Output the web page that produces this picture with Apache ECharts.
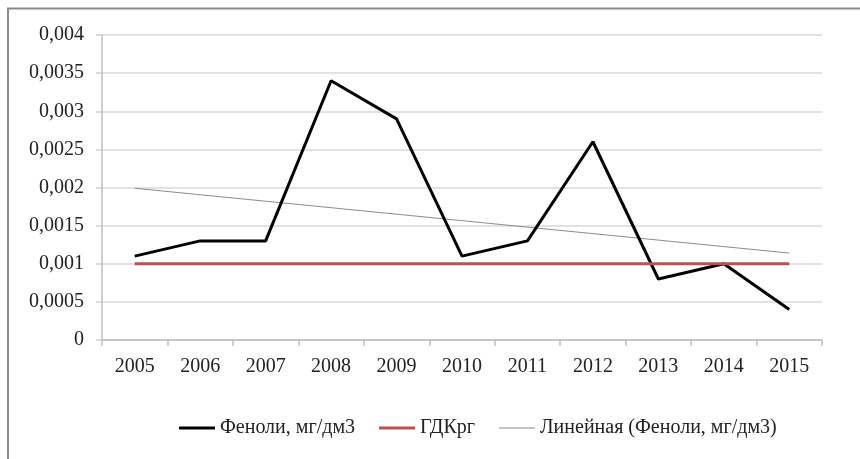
<!DOCTYPE html>
<html>
<head>
<meta charset="utf-8">
<script src="https://cdn.jsdelivr.net/npm/echarts@6/dist/echarts.min.js"></script>
<style>
html,body{margin:0;padding:0;background:#fff;}
#c{width:860px;height:459px;}
</style>
</head>
<body>
<div id="c"></div>
<script>
const years = ['2005','2006','2007','2008','2009','2010','2011','2012','2013','2014','2015'];
const phenols = [0.0011, 0.0013, 0.0013, 0.0034, 0.0029, 0.0011, 0.0013, 0.0026, 0.0008, 0.0010, 0.0004];
const gdk = [0.001, 0.001, 0.001, 0.001, 0.001, 0.001, 0.001, 0.001, 0.001, 0.001, 0.001];
const trendYears = ['2005', '2015'];
const trendValues = [0.00199, 0.00114];
const seriesNames = ['Феноли, мг/дм3', 'ГДКрг', 'Линейная (Феноли, мг/дм3)'];

const font = 'Liberation Serif, Times New Roman, serif';
const chart = echarts.init(document.getElementById('c'));
chart.setOption({
  animation: false,
  backgroundColor: '#fff',
  graphic: [
    {type: 'line', shape: {x1: 7, y1: 8.5, x2: 860, y2: 8.5}, style: {stroke: '#8a8a8a', lineWidth: 2}},
    {type: 'line', shape: {x1: 8, y1: 8, x2: 8, y2: 459}, style: {stroke: '#8a8a8a', lineWidth: 2}}
  ],
  grid: {left: 102, right: 38, top: 35, bottom: 119, containLabel: false},
  legend: {
    left: 174, top: 413,
    itemWidth: 36, itemHeight: 14, itemGap: 24,
    textStyle: {fontFamily: font, fontSize: 20, color: '#222'},
    data: [
      {name: seriesNames[0], icon: 'path://M0,0H36V3H0Z'},
      {name: seriesNames[1], icon: 'path://M0,0H36V3H0Z'},
      {name: seriesNames[2], icon: 'path://M0,0H36V1H0Z'}
    ]
  },
  xAxis: {
    type: 'category',
    data: years,
    boundaryGap: true,
    axisLine: {lineStyle: {color: '#bfbfbf', width: 1.5}},
    axisTick: {show: true, length: 6, lineStyle: {color: '#bfbfbf', width: 1.5}},
    axisLabel: {fontFamily: font, fontSize: 20, color: '#222', margin: 17}
  },
  yAxis: {
    type: 'value',
    min: 0, max: 0.004, interval: 0.0005,
    axisLine: {show: true, lineStyle: {color: '#bfbfbf', width: 1.5}},
    axisTick: {show: true, length: 6, lineStyle: {color: '#d0d0d0', width: 1.5}},
    splitLine: {lineStyle: {color: '#d9d9d9', width: 1.5}},
    axisLabel: {
      fontFamily: font, fontSize: 20, color: '#222', margin: 18,
      formatter: v => String(+v.toFixed(4)).replace('.', ',')
    }
  },
  series: [
    {
      name: seriesNames[0], type: 'line', data: phenols,
      symbol: 'none', z: 3,
      itemStyle: {color: '#000'},
      lineStyle: {color: '#000', width: 3}
    },
    {
      name: seriesNames[1], type: 'line', data: gdk,
      symbol: 'none', z: 4,
      itemStyle: {color: '#c0504d'},
      lineStyle: {color: '#c0504d', width: 3}
    },
    {
      name: seriesNames[2], type: 'line',
      data: trendYears.map((y, i) => [y, trendValues[i]]),
      symbol: 'none', z: 2,
      itemStyle: {color: '#8c8c8c'},
      lineStyle: {color: '#8c8c8c', width: 1}
    }
  ]
});
</script>
</body>
</html>
